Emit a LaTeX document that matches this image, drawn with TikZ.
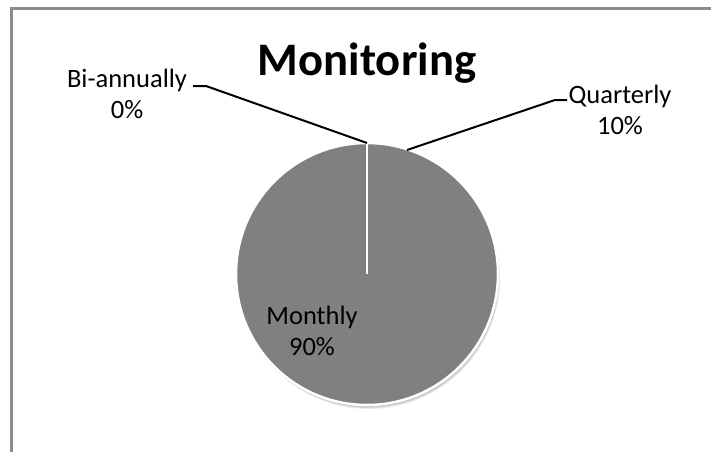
\documentclass[tikz,border=0pt]{standalone}
\usepackage{fontspec}
\setmainfont{Carlito}
\usepackage{xcolor}
\definecolor{framegray}{RGB}{140,140,140}
\definecolor{slicegray}{RGB}{128,128,128}
\tikzset{label text/.style={font=\fontsize{26.5}{31}\selectfont, align=center, inner sep=0pt},
 title text/.style={font=\fontsize{46.6}{50}\selectfont\bfseries, inner sep=0pt},
 leader/.style={draw=black, line width=2pt},
 }

\begin{document}
\begin{tikzpicture}[x=1pt, y=-1pt]
        \useasboundingbox (0,0) rectangle (711,452);
        \draw[framegray, line width=3pt] (11.5,452) -- (11.5,9) -- (711,9);
        \coordinate (c) at (367,274);
        \foreach \s in {1, 2, 3, 4, 5} {
            \fill[black, opacity=.07] ([shift={(.4*\s,.8*\s)}]c) circle (131);
        }
        \fill[slicegray, draw=white, line width=2.5pt] (c) circle (131);
        \coordinate (top) at (367,143);
        \coordinate (qedge) at (407,150);
        \draw[white, line width=2pt] (c) -- (top);
        \node[title text, anchor=base] (title) at (367,75) {Monitoring};
        \node[label text] (biannual) at (127,94) {Bi-annually\\0\%};
        \node[label text] (quarterly) at (620,109.5) {Quarterly\\10\%};
        \node[label text] (monthly) at (312,331) {Monthly\\90\%};
        \coordinate (bstart) at (193,86);
        \coordinate (qstart) at (567,100);
        \draw[leader] (bstart) -- ++(13,0) -- (top);
        \draw[leader] (qstart) -- ++(-12,0) -- (qedge);
    \end{tikzpicture}
\end{document}
